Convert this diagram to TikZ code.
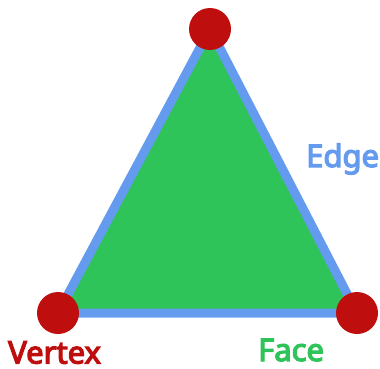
\documentclass[tikz,border=0pt]{standalone}
\usepackage{fontspec}
\setmainfont{Noto Sans}[BoldFont={Noto Sans},BoldFeatures={FakeBold=4}]
\definecolor{vred}{RGB}{190,14,14}
\definecolor{fgreen}{RGB}{46,196,90}
\definecolor{eblue}{RGB}{101,155,239}
\begin{document}
\begin{tikzpicture}[x=1pt,y=-1pt,
  vert/.style={circle,fill=vred,minimum size=42pt,inner sep=0pt},
  lbl/.style={font=\bfseries\fontsize{31}{31}\selectfont,inner sep=0pt,anchor=base west}]
\useasboundingbox (0,0) rectangle (380,369);
\coordinate (A) at (210,29);
\coordinate (B) at (58,313);
\coordinate (C) at (357,313);
\filldraw[fill=fgreen,draw=eblue,line width=9pt,line join=round] (A) -- (B) -- (C) -- cycle;
\node[vert] (vA) at (A) {};
\node[vert] (vB) at (B) {};
\node[vert] (vC) at (C) {};
\node[lbl,text=vred] (tv) at (8,363.5) {Vertex};
\node[lbl,text=fgreen] (tf) at (258,361) {Face};
\node[lbl,text=eblue] (te) at (306,167) {Edge};
\end{tikzpicture}
\end{document}
